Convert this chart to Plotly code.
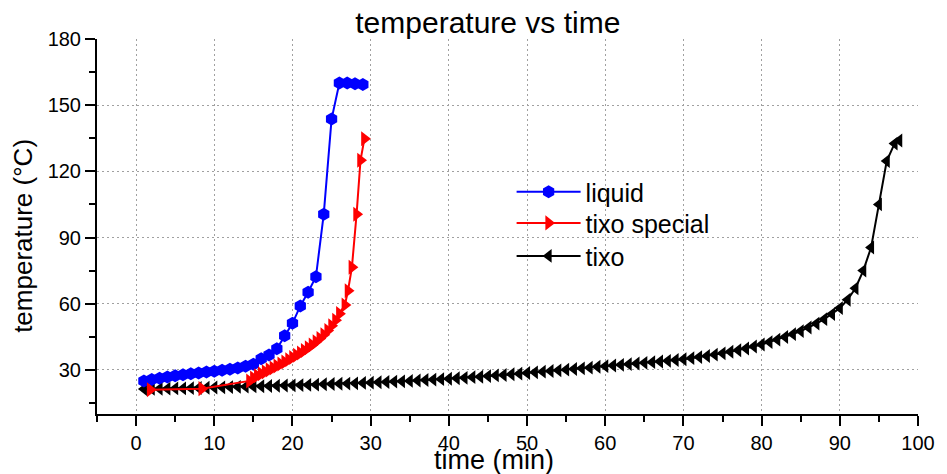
import plotly.graph_objects as go

# ---- data ----
liquid_t = [1, 2, 3, 4, 5, 6, 7, 8, 9, 10, 11, 12, 13, 14, 15, 16, 17, 18, 19, 20,
            21, 22, 23, 24, 25, 26, 27, 28, 29]
liquid_T = [25.0, 25.6, 26.2, 26.8, 27.3, 27.8, 28.2, 28.6, 29.0, 29.4, 29.8, 30.3,
            30.9, 31.6, 32.6, 35.0, 36.8, 39.6, 45.5, 51.1, 59.0, 65.2, 72.2, 100.6,
            143.7, 160.0, 160.0, 159.7, 159.4]

special_t = [1.8, 8.4, 14.5, 15.0, 15.5, 16.0, 16.5, 17.0, 17.5, 18.0, 18.5, 19.0,
             19.5, 20.0, 20.5, 21.0, 21.5, 22.0, 22.5, 23.0, 23.5, 24.0, 24.5, 25.0,
             25.5, 26.0, 26.7, 27.1, 27.6, 28.2, 28.7, 29.2]
special_T = [21.0, 21.5, 25.0, 26.3, 27.3, 28.2, 29.1, 30.0, 30.9, 31.8, 32.7, 33.6,
             34.6, 35.6, 36.6, 37.7, 38.8, 40.0, 41.3, 42.7, 44.2, 45.9, 47.8, 50.0,
             52.5, 55.5, 59.4, 65.9, 76.5, 100.6, 125.0, 134.8]

tixo_t = [1, 2, 3, 4, 5, 6, 7, 8, 9, 10, 11, 12, 13, 14, 15, 16, 17, 18, 19, 20,
          21, 22, 23, 24, 25, 26, 27, 28, 29, 30, 31, 32, 33, 34, 35, 36, 37, 38, 39, 40,
          41, 42, 43, 44, 45, 46, 47, 48, 49, 50, 51, 52, 53, 54, 55, 56, 57, 58, 59, 60,
          61, 62, 63, 64, 65, 66, 67, 68, 69, 70, 71, 72, 73, 74, 75, 76, 77, 78, 79, 80,
          81, 82, 83, 84, 85, 86, 87, 88, 89, 90, 91, 92, 93, 94, 95, 96, 97, 97.6]
tixo_T = [21.3, 21.4, 21.4, 21.5, 21.6, 21.6, 21.7, 21.8, 21.9, 22.0,
          22.1, 22.2, 22.3, 22.4, 22.5, 22.6, 22.7, 22.8, 22.9, 23.0,
          23.1, 23.2, 23.3, 23.5, 23.6, 23.7, 23.8, 23.9, 24.1, 24.2,
          24.4, 24.5, 24.7, 24.8, 25.0, 25.2, 25.4, 25.6, 25.8, 26.0,
          26.2, 26.4, 26.7, 26.9, 27.2, 27.5, 27.7, 28.0, 28.3, 28.6,
          28.9, 29.2, 29.5, 29.8, 30.1, 30.4, 30.7, 31.0, 31.4, 31.7,
          32.0, 32.3, 32.6, 32.9, 33.2, 33.5, 33.8, 34.1, 34.5, 34.8,
          35.3, 35.8, 36.3, 36.9, 37.5, 38.2, 38.9, 39.7, 40.6, 41.5,
          42.6, 43.7, 44.9, 46.2, 47.6, 49.2, 51.0, 53.0, 55.3, 58.0,
          61.8, 67.0, 75.0, 85.5, 105.0, 124.7, 132.6, 134.0]

title_text = "temperature vs time"
x_title = "time (min)"
y_title = "temperature (°C)"

FONT = "Arial, Liberation Sans, sans-serif"

fig = go.Figure()
fig.add_trace(go.Scatter(
    x=tixo_t, y=tixo_T, name="tixo", mode="lines+markers", legend="legend3",
    line=dict(color="#000000", width=2),
    marker=dict(symbol="triangle-left", size=12, color="#000000")))
fig.add_trace(go.Scatter(
    x=liquid_t, y=liquid_T, name="liquid", mode="lines+markers", legend="legend",
    line=dict(color="#0000ff", width=2),
    marker=dict(symbol="hexagon", size=13, color="#0000ff")))
fig.add_trace(go.Scatter(
    x=special_t, y=special_T, name="tixo special", mode="lines+markers", legend="legend2",
    line=dict(color="#ff0000", width=2),
    marker=dict(symbol="triangle-right", size=13, color="#ff0000")))

legend_common = dict(x=0.505, xanchor="left", yanchor="middle",
                     font=dict(size=25, family=FONT, color="black"),
                     bgcolor="rgba(0,0,0,0)", itemwidth=64)

fig.update_layout(
    width=939, height=466,
    margin=dict(l=89, r=18, t=31, b=60),
    paper_bgcolor="white", plot_bgcolor="white",
    font=dict(family=FONT, color="black", size=20),
    title=dict(text=title_text, x=0.511, xanchor="center", y=0.968, yanchor="middle",
               font=dict(size=30, family=FONT, color="black")),
    legend=dict(y=0.592, **legend_common),
    legend2=dict(y=0.509, **legend_common),
    legend3=dict(y=0.421, **legend_common),
    showlegend=True,
    annotations=[
        dict(text=x_title, xref="paper", yref="paper", x=0.484, y=-0.122,
             xanchor="center", yanchor="middle", showarrow=False,
             font=dict(size=27, family=FONT, color="black")),
        dict(text=y_title, xref="paper", yref="paper", x=-0.0894, y=0.474,
             xanchor="center", yanchor="middle", showarrow=False, textangle=-90,
             font=dict(size=26, family=FONT, color="black")),
    ],
)

axis_common = dict(
    ticks="outside", ticklen=10, tickwidth=2, tickcolor="black",
    showline=True, linewidth=2, linecolor="black",
    showgrid=True, gridcolor="#a0a0a0", gridwidth=1, griddash="2px,3px",
    zeroline=False, tickfont=dict(size=20, family=FONT, color="black"),
)
fig.update_xaxes(range=[-5, 100], tick0=0, dtick=10,
                 minor=dict(tick0=0, dtick=5, ticks="outside", ticklen=6, tickwidth=2,
                            tickcolor="black", showgrid=False),
                 **axis_common)
fig.update_yaxes(range=[10, 180], tick0=0, dtick=30,
                 minor=dict(tick0=0, dtick=15, ticks="outside", ticklen=6, tickwidth=2,
                            tickcolor="black", showgrid=False),
                 **axis_common)

fig.write_html("out.html")
